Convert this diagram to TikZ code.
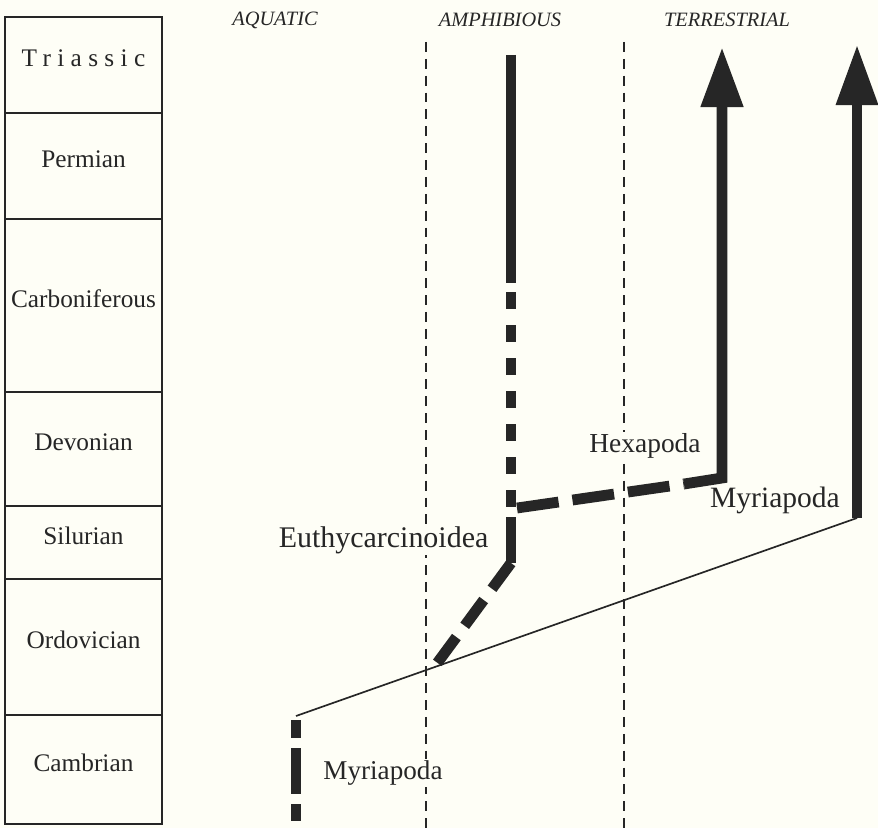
\documentclass[tikz,border=0pt]{standalone}
\usepackage{fontspec}
\setmainfont{Liberation Serif}
\newfontfamily\spacedfont[LetterSpace=25]{Liberation Serif}
\usetikzlibrary{arrows.meta}
\definecolor{paper}{HTML}{FEFEF6}
\definecolor{ink}{HTML}{262626}

\begin{document}
\begin{tikzpicture}[x=0.025cm, y=-0.025cm,
  period/.style={draw=ink, line width=1.3pt, minimum width=3.925cm, anchor=north,
                 inner sep=0pt, text depth=0.36cm, text=ink, font=\fontsize{18}{20}\selectfont},
  zone/.style={text=ink, font=\itshape\fontsize{14.5}{16}\selectfont},
  taxon/.style={text=ink, fill=paper, inner sep=1pt, font=\fontsize{20}{24}\selectfont},
  guide/.style={draw=ink, line width=1.1pt, dash pattern=on 7pt off 5pt},
  lineage/.style={draw=ink, line width=0.27cm},
  gapline/.style={lineage, dash pattern=on 0.425cm off 0.4cm},
  link/.style={draw=ink, line width=1.2pt},
  bigtip/.style={-{Triangle[length=1.5cm, width=1cm]}},
]
\fill[paper] (0,0) rectangle (878,828);
\useasboundingbox (0,0) rectangle (878,828);

% geological column
\node[period, minimum height=2.4cm] (triassic) at (83.5,16) {\spacedfont Triassic};
\node[period, minimum height=2.65cm] (permian) at (83.5,112) {Permian};
\node[period, minimum height=4.325cm] (carboniferous) at (83.5,218) {Carboniferous};
\node[period, minimum height=2.85cm] (devonian) at (83.5,391) {Devonian};
\node[period, minimum height=1.825cm] (silurian) at (83.5,505) {Silurian};
\node[period, minimum height=3.4cm] (ordovician) at (83.5,578) {Ordovician};
\node[period, minimum height=2.725cm] (cambrian) at (83.5,714) {Cambrian};

% habitats
\node[zone] (aquatic) at (275,20) {AQUATIC};
\node[zone] (amphibious) at (500,20) {AMPHIBIOUS};
\node[zone] (terrestrial) at (727,20) {TERRESTRIAL};

\coordinate (shore top) at (426,42);
\coordinate (shore bottom) at (426,828);
\coordinate (land top) at (624,42);
\coordinate (land bottom) at (624,828);
\draw[guide] (shore top) -- (shore bottom);
\draw[guide] (land top) -- (land bottom);

% taxa
\node[taxon, anchor=east, font=\fontsize{21.3}{24}\selectfont] (euthy) at (490,540) {Euthycarcinoidea};
\node[taxon, font=\fontsize{19.5}{24}\selectfont] (hexapoda) at (645,446) {Hexapoda};
\node[taxon, font=\fontsize{21}{24}\selectfont] (myria land) at (775,500) {Myriapoda};
\node[taxon, font=\fontsize{19.3}{24}\selectfont] (myria sea) at (383,773) {Myriapoda};

% amphibious lineage
\coordinate (amph top) at (511,55);
\coordinate (amph solid) at (511,283);
\coordinate (amph gap) at (511,292);
\coordinate (amph split) at (511,508);
\draw[lineage] (amph top) -- (amph solid);
\draw[gapline] (amph gap) -- (amph split);

\coordinate (euthy top) at (511,517);
\coordinate (euthy base) at (511,563);
\coordinate (euthy root) at (435,666);
\draw[lineage] (euthy top) -- (euthy base);
\draw[lineage, dash pattern=on 0.8cm off 0.35cm] (euthy base) -- (euthy root);

% hexapoda
\coordinate (hexa start) at (517,508);
\coordinate (hexa solid) at (684,484);
\coordinate (hexa bend) at (722,478);
\coordinate (hexa tip) at (722,47);
\draw[lineage, dash pattern=on 1.05cm off 0.35cm] (hexa start) -- (hexa solid);
\draw[lineage, bigtip] (hexa solid) -- (hexa bend) -- (hexa tip);

% myriapoda
\coordinate (myria base) at (857,518);
\coordinate (myria bar) at (857,424);
\coordinate (myria shaft) at (857,427);
\coordinate (myria tip) at (857,45);
\draw[lineage, line width=0.24cm, bigtip] (myria shaft) -- (myria tip);
\draw[lineage] (myria base) -- (myria bar);

\coordinate (cambrian top) at (296,716);
\coordinate (cambrian bottom) at (296,821);
\draw[lineage, line width=0.23cm, dash pattern=on 0.45cm off 0.25cm on 1.15cm off 0.25cm]
  ([yshift=-0.1cm]cambrian top) -- (cambrian bottom);
\draw[link] (cambrian top) -- (myria base);
\end{tikzpicture}
\end{document}
